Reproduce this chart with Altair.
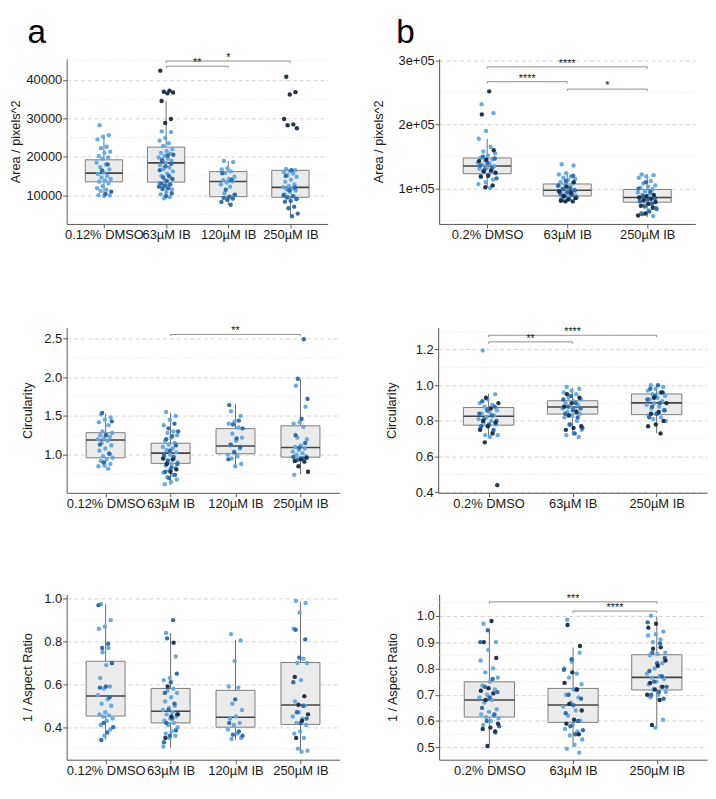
import altair as alt
import pandas as pd

FONT = "Liberation Sans"
REPS = ["light", "mid", "dark"]
COLORS = ["#63a8de", "#2c68a2", "#182a44"]

CAT_A = ["0.12% DMSO", "63µM IB", "120µM IB", "250µM IB"]
CAT_B = ["0.2% DMSO", "63µM IB", "250µM IB"]
LETTERS = ["a", "b"]

# ---------------- a1 : Area ----------------
A1_DMSO_L = [28200, 25600, 25200, 24500, 22600, 22200, 21300, 21000, 20200, 19800, 19500, 18500, 18000, 17300,
             16700, 15900, 15500, 15000, 14600, 14200, 13800, 13500, 13000, 12300, 11800, 11400, 11100, 9900, 9800, 10000]
A1_DMSO_M = [18000, 16400, 10900, 10300]
A1_DMSO_D = []
A1_63_L = [26600, 26400, 24900, 24200, 23500, 22800, 22000, 21500, 21000, 20800, 20200, 19800, 19500, 19200, 18900,
           18400, 17800, 17200, 16800, 16200, 15600, 15000, 14500, 13800, 13200, 12600, 12000, 11500, 10800, 10200, 9500, 9200]
A1_63_M = [20500, 20300, 19000, 18200, 17500, 16500, 15000, 14600, 14200, 13700, 13000, 12800, 12500, 12200, 11800,
           11600, 10500, 9800]
A1_63_D = [42400, 37200, 36900, 36700, 36500, 34500, 29800, 28800]
A1_120_L = [18900, 18600, 17000, 16700, 16200, 15800, 14800, 14200, 13900, 13600, 13300, 12800, 12200, 10500, 10000, 9000]
A1_120_M = [15700, 14000, 11400, 10100, 9600, 9300, 9100, 8800, 8200, 7500]
A1_120_D = []
A1_250_L = [16800, 16500, 16300, 16000, 15600, 15200, 14800, 14000, 13500, 12800, 12400, 12100, 11800, 11500, 11200,
            10800, 10200, 9800, 9500, 9100]
A1_250_M = [16500, 15000, 12000, 11300, 10000, 9700, 9400, 9000, 8500, 8300, 7000, 6600, 5200, 4500]
A1_250_D = [40800, 36800, 36200, 29800, 28400, 28200, 27400]
A1_Q1 = [13470, 13390, 9600, 9440]
A1_MED = [15730, 18390, 13550, 12020]
A1_Q3 = [19190, 22500, 16130, 16450]
A1_LO = [9800, 9190, 7410, 4510]
A1_HI = [25490, 34500, 18870, 16800]
A1_BR_FROM = [1, 1]
A1_BR_TO = [2, 3]
A1_BR_Y = [43560, 44900]
A1_BR_LAB = ["**", "*"]

# ---------------- b1 : Area ----------------
B1_DMSO_L = [232000, 218000, 190000, 178000, 165000, 158000, 155000, 152000, 148000, 146000, 144000, 141000, 139000,
             137000, 135000, 133000, 131000, 129000, 126000, 124000, 122000, 118000, 114000, 110000, 107000, 101000]
B1_DMSO_M = [150000, 147000, 140000, 136000, 132000, 130000, 116000]
B1_DMSO_D = [252000, 216000, 160000, 145000, 143000, 128000, 127000, 125000, 120000, 119000, 105000, 102000]
B1_63_L = [138000, 136000, 124000, 122000, 119000, 117000, 115000, 113000, 110000, 108000, 106000, 104000, 102000,
           100000, 98000, 96000, 95000, 93000, 91000, 89000, 87000, 85000]
B1_63_M = [120000, 112000, 105000, 101000, 99000, 97000, 94000, 92000, 90000, 88000, 86000, 84000, 82000]
B1_63_D = [110000, 103000, 96000, 93000, 88000, 85000, 83000, 81000, 80000, 80000]
B1_250_L = [122000, 121000, 119000, 117000, 112000, 108000, 105000, 103000, 101000, 99000, 96000, 94000, 92000,
            90000, 87000, 84000, 80000, 77000, 74000, 70000, 66000, 62000, 57000]
B1_250_M = [110000, 100000, 95000, 88000, 85000, 83000, 80000, 76000, 72000, 68000, 64000, 60000]
B1_250_D = [90000, 88000, 86000, 84000, 82000, 79000, 76000, 73000, 70000, 61000, 58000]
B1_Q1 = [123200, 88400, 78700]
B1_MED = [135200, 97500, 86000]
B1_Q3 = [147800, 107200, 98600]
B1_LO = [100900, 79200, 55600]
B1_HI = [177700, 125000, 122600]
B1_BR_FROM = [0, 0, 1]
B1_BR_TO = [2, 1, 2]
B1_BR_Y = [290300, 267100, 255500]
B1_BR_LAB = ["****", "****", "*"]

# ---------------- a2 : Circularity ----------------
A2_DMSO_L = [1.52, 1.48, 1.45, 1.42, 1.38, 1.30, 1.28, 1.26, 1.25, 1.23, 1.21, 1.20, 1.18, 1.15, 1.12, 1.08, 1.05,
             1.02, 0.98, 0.96, 0.94, 0.92, 0.88, 0.86, 0.85, 0.82]
A2_DMSO_M = [1.54, 1.43, 1.25, 1.13, 1.01, 0.90]
A2_DMSO_D = []
A2_63_L = [1.55, 1.50, 1.45, 1.38, 1.30, 1.28, 1.25, 1.22, 1.18, 1.15, 1.13, 1.10, 1.08, 1.06, 1.03, 1.00, 0.98,
           0.95, 0.93, 0.90, 0.88, 0.86, 0.83, 0.80, 0.77, 0.74, 0.71, 0.68, 0.65, 0.62]
A2_63_M = [1.40, 1.34, 1.30, 1.24, 1.20, 1.12, 1.05, 1.00, 0.97, 0.92, 0.88, 0.83, 0.78, 0.74, 0.70]
A2_63_D = [0.95, 0.94, 0.88, 0.81, 0.78]
A2_120_L = [1.56, 1.50, 1.43, 1.40, 1.35, 1.27, 1.22, 1.18, 1.12, 1.08, 1.04, 1.00, 0.98, 0.95, 0.88, 0.85]
A2_120_M = [1.64, 1.44, 1.39, 1.34, 1.21, 1.13, 1.10, 1.03, 0.94]
A2_120_D = []
A2_250_L = [1.89, 1.62, 1.42, 1.40, 1.36, 1.22, 1.20, 1.12, 1.10, 1.08, 1.06, 1.04, 1.02, 1.00, 0.98, 0.96, 0.74]
A2_250_M = [2.49, 1.98, 1.72, 1.46, 1.25, 1.15, 1.09, 0.97, 0.95, 0.93]
A2_250_D = [0.96, 0.94, 0.92, 0.91, 0.85, 0.78]
A2_Q1 = [0.96, 0.888, 1.012, 0.968]
A2_MED = [1.19, 1.02, 1.112, 1.092]
A2_Q3 = [1.284, 1.148, 1.336, 1.372]
A2_LO = [0.84, 0.608, 0.848, 0.744]
A2_HI = [1.528, 1.54, 1.656, 1.976]
A2_BR_FROM = [1]
A2_BR_TO = [3]
A2_BR_Y = [2.552]
A2_BR_LAB = ["**"]

# ---------------- b2 : Circularity ----------------
B2_DMSO_L = [1.195, 0.95, 0.92, 0.90, 0.89, 0.88, 0.86, 0.85, 0.84, 0.83, 0.82, 0.81, 0.80, 0.79, 0.78, 0.77, 0.76,
             0.74, 0.72, 0.72, 0.71]
B2_DMSO_M = [0.91, 0.88, 0.86, 0.84, 0.83, 0.81, 0.80, 0.78, 0.77, 0.75]
B2_DMSO_D = [0.93, 0.90, 0.87, 0.80, 0.79, 0.77, 0.75, 0.73, 0.68, 0.44]
B2_63_L = [0.99, 0.98, 0.97, 0.96, 0.95, 0.93, 0.92, 0.91, 0.90, 0.89, 0.88, 0.87, 0.86, 0.85, 0.84, 0.83, 0.82,
           0.80, 0.78, 0.75, 0.73, 0.72, 0.71]
B2_63_M = [0.94, 0.92, 0.90, 0.88, 0.87, 0.86, 0.84, 0.82, 0.78, 0.76, 0.73]
B2_63_D = [0.95, 0.93, 0.90, 0.88, 0.85, 0.83, 0.77, 0.76, 0.75]
B2_250_L = [1.0, 0.99, 0.98, 0.97, 0.96, 0.95, 0.94, 0.93, 0.92, 0.91, 0.90, 0.89, 0.88, 0.87, 0.86, 0.84, 0.83,
            0.82, 0.81, 0.80]
B2_250_M = [1.0, 0.98, 0.96, 0.94, 0.92, 0.90, 0.88, 0.86, 0.84, 0.82]
B2_250_D = [0.96, 0.93, 0.90, 0.85, 0.84, 0.80, 0.78, 0.77, 0.73]
B2_Q1 = [0.776, 0.838, 0.835]
B2_MED = [0.826, 0.878, 0.901]
B2_Q3 = [0.875, 0.913, 0.951]
B2_LO = [0.71, 0.722, 0.73]
B2_HI = [0.953, 0.986, 1.0]
B2_BR_FROM = [0, 0]
B2_BR_TO = [1, 2]
B2_BR_Y = [1.243, 1.28]
B2_BR_LAB = ["**", "****"]

# ---------------- a3 : 1 / Aspect Ratio ----------------
A3_DMSO_L = [0.975, 0.90, 0.87, 0.86, 0.77, 0.75, 0.70, 0.69, 0.63, 0.59, 0.58, 0.55, 0.53, 0.51, 0.50, 0.47, 0.46,
             0.455, 0.45, 0.44, 0.43, 0.41, 0.39, 0.36]
A3_DMSO_M = [0.97, 0.79, 0.77, 0.70, 0.59, 0.585, 0.54, 0.42, 0.40, 0.375, 0.34]
A3_DMSO_D = []
A3_63_L = [0.84, 0.73, 0.63, 0.62, 0.58, 0.57, 0.56, 0.54, 0.52, 0.50, 0.49, 0.48, 0.47, 0.46, 0.45, 0.44, 0.43,
           0.42, 0.41, 0.40, 0.38, 0.37, 0.36, 0.35, 0.31]
A3_63_M = [0.90, 0.815, 0.65, 0.61, 0.56, 0.51, 0.48, 0.46, 0.44, 0.42, 0.385, 0.36, 0.33]
A3_63_D = [0.795, 0.59, 0.46, 0.45, 0.35]
A3_120_L = [0.835, 0.805, 0.71, 0.59, 0.585, 0.51, 0.48, 0.45, 0.44, 0.42, 0.41, 0.39, 0.37, 0.345, 0.35]
A3_120_M = [0.53, 0.42, 0.38, 0.365, 0.36]
A3_120_D = []
A3_250_L = [0.99, 0.98, 0.935, 0.86, 0.72, 0.70, 0.70, 0.62, 0.52, 0.50, 0.47, 0.45, 0.44, 0.42, 0.41, 0.38, 0.37,
            0.35, 0.30, 0.29, 0.285]
A3_250_M = [0.855, 0.81, 0.725, 0.61, 0.50, 0.47, 0.44, 0.42]
A3_250_D = [0.635, 0.545, 0.505, 0.46, 0.43, 0.35]
A3_Q1 = [0.452, 0.42, 0.40, 0.413]
A3_MED = [0.546, 0.474, 0.446, 0.504]
A3_Q3 = [0.708, 0.581, 0.572, 0.702]
A3_LO = [0.341, 0.305, 0.342, 0.283]
A3_HI = [0.974, 0.84, 0.808, 0.986]

# ---------------- b3 : 1 / Aspect Ratio ----------------
B3_DMSO_L = [0.97, 0.90, 0.87, 0.83, 0.80, 0.785, 0.765, 0.75, 0.735, 0.72, 0.70, 0.69, 0.68, 0.67, 0.645, 0.635,
             0.625, 0.62, 0.615, 0.61, 0.60, 0.585, 0.555]
B3_DMSO_M = [0.945, 0.90, 0.76, 0.73, 0.71, 0.69, 0.65, 0.625, 0.60, 0.58]
B3_DMSO_D = [0.98, 0.90, 0.84, 0.725, 0.715, 0.705, 0.68, 0.59, 0.575, 0.57, 0.56, 0.505]
B3_63_L = [0.985, 0.86, 0.825, 0.80, 0.78, 0.765, 0.74, 0.72, 0.70, 0.69, 0.67, 0.655, 0.64, 0.62, 0.60, 0.585,
           0.57, 0.56, 0.545, 0.53, 0.51, 0.495, 0.48]
B3_63_M = [0.835, 0.795, 0.72, 0.70, 0.685, 0.66, 0.63, 0.60, 0.58, 0.565, 0.55]
B3_63_D = [0.965, 0.885, 0.785, 0.745, 0.72, 0.665, 0.64, 0.605, 0.59, 0.55]
B3_250_L = [1.0, 0.94, 0.93, 0.925, 0.91, 0.90, 0.86, 0.855, 0.85, 0.82, 0.80, 0.78, 0.77, 0.765, 0.76, 0.75, 0.74,
            0.73, 0.72, 0.71, 0.70, 0.69, 0.605, 0.575]
B3_250_M = [0.975, 0.895, 0.86, 0.84, 0.82, 0.79, 0.77, 0.75, 0.73, 0.71, 0.70, 0.685]
B3_250_D = [0.97, 0.955, 0.88, 0.875, 0.83, 0.81, 0.745, 0.73, 0.72, 0.70, 0.68, 0.585]
B3_Q1 = [0.615, 0.595, 0.718]
B3_MED = [0.68, 0.661, 0.766]
B3_Q3 = [0.749, 0.724, 0.852]
B3_LO = [0.508, 0.502, 0.575]
B3_HI = [0.946, 0.879, 0.998]
B3_BR_FROM = [0, 1]
B3_BR_TO = [2, 2]
B3_BR_Y = [1.053, 1.018]
B3_BR_LAB = ["***", "****"]

BOX_HALF = 0.3
JITTER = 0.12
H = 169


def points_frame(groups):
    rows = []
    for g, sets in enumerate(groups):
        k = 0
        for rep, vals in zip(REPS, sets):
            for v in vals:
                j = ((k * 0.618034 + 0.21) % 1.0) * 2 - 1
                rows.append({"x": g + JITTER * j, "v": v, "rep": rep})
                k += 1
    return pd.DataFrame(rows)


def panel(cats, groups, q1, med, q3, lo, hi, brackets, ydom, yticks, minor, ytitle,
          width, extent, title_pad, label_expr=None, fmt=None, letter=None, letter_dx=0):
    n = len(cats)
    xscale = alt.Scale(domain=[-0.6, n - 0.4], nice=False, zero=False)
    label_map = "[" + ",".join("'%s'" % c for c in cats) + "][datum.value]"
    xaxis = alt.Axis(values=list(range(n)), labelExpr=label_map, title=None, grid=False,
                     tickSize=4, labelPadding=1, labelAngle=0, labelOverlap=False,
                     labelFlush=False, labelFontSize=13.2)
    yscale = alt.Scale(domain=ydom, nice=False, zero=False)
    yargs = dict(values=yticks, title=ytitle, grid=True, gridDash=[4, 3], gridColor="#d4d4d4",
                 tickSize=4, labelPadding=1, minExtent=extent, maxExtent=extent, titlePadding=title_pad,
                 labelOverlap=False, labelFlush=False, labelFontSize=13.2)
    if label_expr:
        yargs["labelExpr"] = label_expr
    if fmt:
        yargs["format"] = fmt
    yaxis = alt.Axis(**yargs)

    def X(f):
        return alt.X(f, type="quantitative", scale=xscale, axis=xaxis)

    def Y(f):
        return alt.Y(f, type="quantitative", scale=yscale, axis=yaxis)

    minor_l = alt.Chart(pd.DataFrame({"m": minor})).mark_rule(
        color="#e4e4e4", strokeDash=[1.5, 2], strokeWidth=0.8).encode(y=Y("m"))

    box_df = pd.DataFrame({"pos": list(range(n)), "q1": q1, "med": med, "q3": q3, "lo": lo, "hi": hi})
    base_box = alt.Chart(box_df).transform_calculate(
        x1="datum.pos - %f" % BOX_HALF, x2="datum.pos + %f" % BOX_HALF)
    whisk = base_box.mark_rule(color="#6b6b6b", strokeWidth=1).encode(
        x=X("pos"), y=Y("lo"), y2=alt.Y2("hi"))
    box = base_box.mark_rect(fill="#ebebeb", stroke="#7c7c7c", strokeWidth=1).encode(
        x=X("x1"), x2=alt.X2("x2"), y=Y("q1"), y2=alt.Y2("q3"))
    medl = base_box.mark_rule(color="#444444", strokeWidth=1.6).encode(
        x=X("x1"), x2=alt.X2("x2"), y=Y("med"))

    pts = alt.Chart(points_frame(groups)).mark_circle(size=20, opacity=0.95).encode(
        x=X("x"), y=Y("v"),
        color=alt.Color("rep:N", scale=alt.Scale(domain=REPS, range=COLORS), legend=None))

    layers = [minor_l, whisk, box, medl, pts]
    if brackets:
        bf, bt, by, bl = brackets
        tip = 0.011 * (ydom[1] - ydom[0])
        br_df = pd.DataFrame({"a": bf, "b": bt, "y": by, "lab": bl})
        bbase = alt.Chart(br_df).transform_calculate(
            xm="(datum.a + datum.b) / 2", yt="datum.y - %f" % tip)
        bline = bbase.mark_rule(color="#8f8f8f", strokeWidth=1).encode(
            x=X("a"), x2=alt.X2("b"), y=Y("y"))
        btip1 = bbase.mark_rule(color="#8f8f8f", strokeWidth=1).encode(
            x=X("a"), y=Y("y"), y2=alt.Y2("yt"))
        btip2 = bbase.mark_rule(color="#8f8f8f", strokeWidth=1).encode(
            x=X("b"), y=Y("y"), y2=alt.Y2("yt"))
        btxt = bbase.mark_text(font=FONT, fontSize=11, color="#222222", baseline="middle", dy=-3).encode(
            x=X("xm"), y=Y("y"), text="lab:N")
        layers += [bline, btip1, btip2, btxt]

    if letter:
        lt = alt.Chart(pd.DataFrame({"t": [letter]})).mark_text(
            font=FONT, fontSize=34, color="#000000", align="left", baseline="alphabetic"
        ).encode(x=alt.value(letter_dx), y=alt.value(-16), text="t:N")
        layers.append(lt)

    return alt.layer(*layers).properties(width=width, height=H)


a1 = panel(CAT_A, [(A1_DMSO_L, A1_DMSO_M, A1_DMSO_D), (A1_63_L, A1_63_M, A1_63_D),
                   (A1_120_L, A1_120_M, A1_120_D), (A1_250_L, A1_250_M, A1_250_D)],
           A1_Q1, A1_MED, A1_Q3, A1_LO, A1_HI, (A1_BR_FROM, A1_BR_TO, A1_BR_Y, A1_BR_LAB),
           [2500, 45500], [10000, 20000, 30000, 40000], [5000, 15000, 25000, 35000, 45000],
           "Area / pixels^2", 267, 42, 3, fmt="d", letter=LETTERS[0], letter_dx=-40)
b1 = panel(CAT_B, [(B1_DMSO_L, B1_DMSO_M, B1_DMSO_D), (B1_63_L, B1_63_M, B1_63_D),
                   (B1_250_L, B1_250_M, B1_250_D)],
           B1_Q1, B1_MED, B1_Q3, B1_LO, B1_HI, (B1_BR_FROM, B1_BR_TO, B1_BR_Y, B1_BR_LAB),
           [44700, 303000], [100000, 200000, 300000], [50000, 150000, 250000],
           "Area / pixels^2", 262, 42, 13,
           label_expr="replace(format(datum.value, '.0e'), 'e+', 'e+0')",
           letter=LETTERS[1], letter_dx=-44)
a2 = panel(CAT_A, [(A2_DMSO_L, A2_DMSO_M, A2_DMSO_D), (A2_63_L, A2_63_M, A2_63_D),
                   (A2_120_L, A2_120_M, A2_120_D), (A2_250_L, A2_250_M, A2_250_D)],
           A2_Q1, A2_MED, A2_Q3, A2_LO, A2_HI, (A2_BR_FROM, A2_BR_TO, A2_BR_Y, A2_BR_LAB),
           [0.508, 2.64], [1.0, 1.5, 2.0, 2.5], [0.75, 1.25, 1.75, 2.25],
           "Circularity", 279, 24, 9, fmt=".1f")
b2 = panel(CAT_B, [(B2_DMSO_L, B2_DMSO_M, B2_DMSO_D), (B2_63_L, B2_63_M, B2_63_D),
                   (B2_250_L, B2_250_M, B2_250_D)],
           B2_Q1, B2_MED, B2_Q3, B2_LO, B2_HI, (B2_BR_FROM, B2_BR_TO, B2_BR_Y, B2_BR_LAB),
           [0.397, 1.323], [0.4, 0.6, 0.8, 1.0, 1.2], [0.5, 0.7, 0.9, 1.1, 1.3],
           "Circularity", 275, 24, 17, fmt=".1f")
a3 = panel(CAT_A, [(A3_DMSO_L, A3_DMSO_M, A3_DMSO_D), (A3_63_L, A3_63_M, A3_63_D),
                   (A3_120_L, A3_120_M, A3_120_D), (A3_250_L, A3_250_M, A3_250_D)],
           A3_Q1, A3_MED, A3_Q3, A3_LO, A3_HI, None,
           [0.248, 1.02], [0.4, 0.6, 0.8, 1.0], [0.3, 0.5, 0.7, 0.9],
           "1 / Aspect Ratio", 279, 24, 9, fmt=".1f")
b3 = panel(CAT_B, [(B3_DMSO_L, B3_DMSO_M, B3_DMSO_D), (B3_63_L, B3_63_M, B3_63_D),
                   (B3_250_L, B3_250_M, B3_250_D)],
           B3_Q1, B3_MED, B3_Q3, B3_LO, B3_HI, (B3_BR_FROM, B3_BR_TO, B3_BR_Y, B3_BR_LAB),
           [0.453, 1.081], [0.5, 0.6, 0.7, 0.8, 0.9, 1.0], [0.55, 0.65, 0.75, 0.85, 0.95, 1.05],
           "1 / Aspect Ratio", 274, 24, 17, fmt=".1f")

row1 = alt.hconcat(a1, b1, spacing=45)
row2 = alt.hconcat(a2, b2, spacing=46)
row3 = alt.hconcat(a3, b3, spacing=47)

top = alt.vconcat(row1, row2, spacing=85)
chart = alt.vconcat(top, row3, spacing=83).properties(
    padding={"left": 2, "top": 0, "right": 0, "bottom": 0}, background="white"
).configure_view(strokeWidth=0).configure_axis(
    labelFont=FONT, titleFont=FONT, labelFontSize=13, titleFontSize=13, titleFontWeight="normal",
    labelColor="#1a1a1a", titleColor="#1a1a1a", domainColor="#555555", tickColor="#555555",
    domainWidth=1, tickWidth=1
)

chart.save("out.html", embed_options={"renderer": "svg", "actions": False})
